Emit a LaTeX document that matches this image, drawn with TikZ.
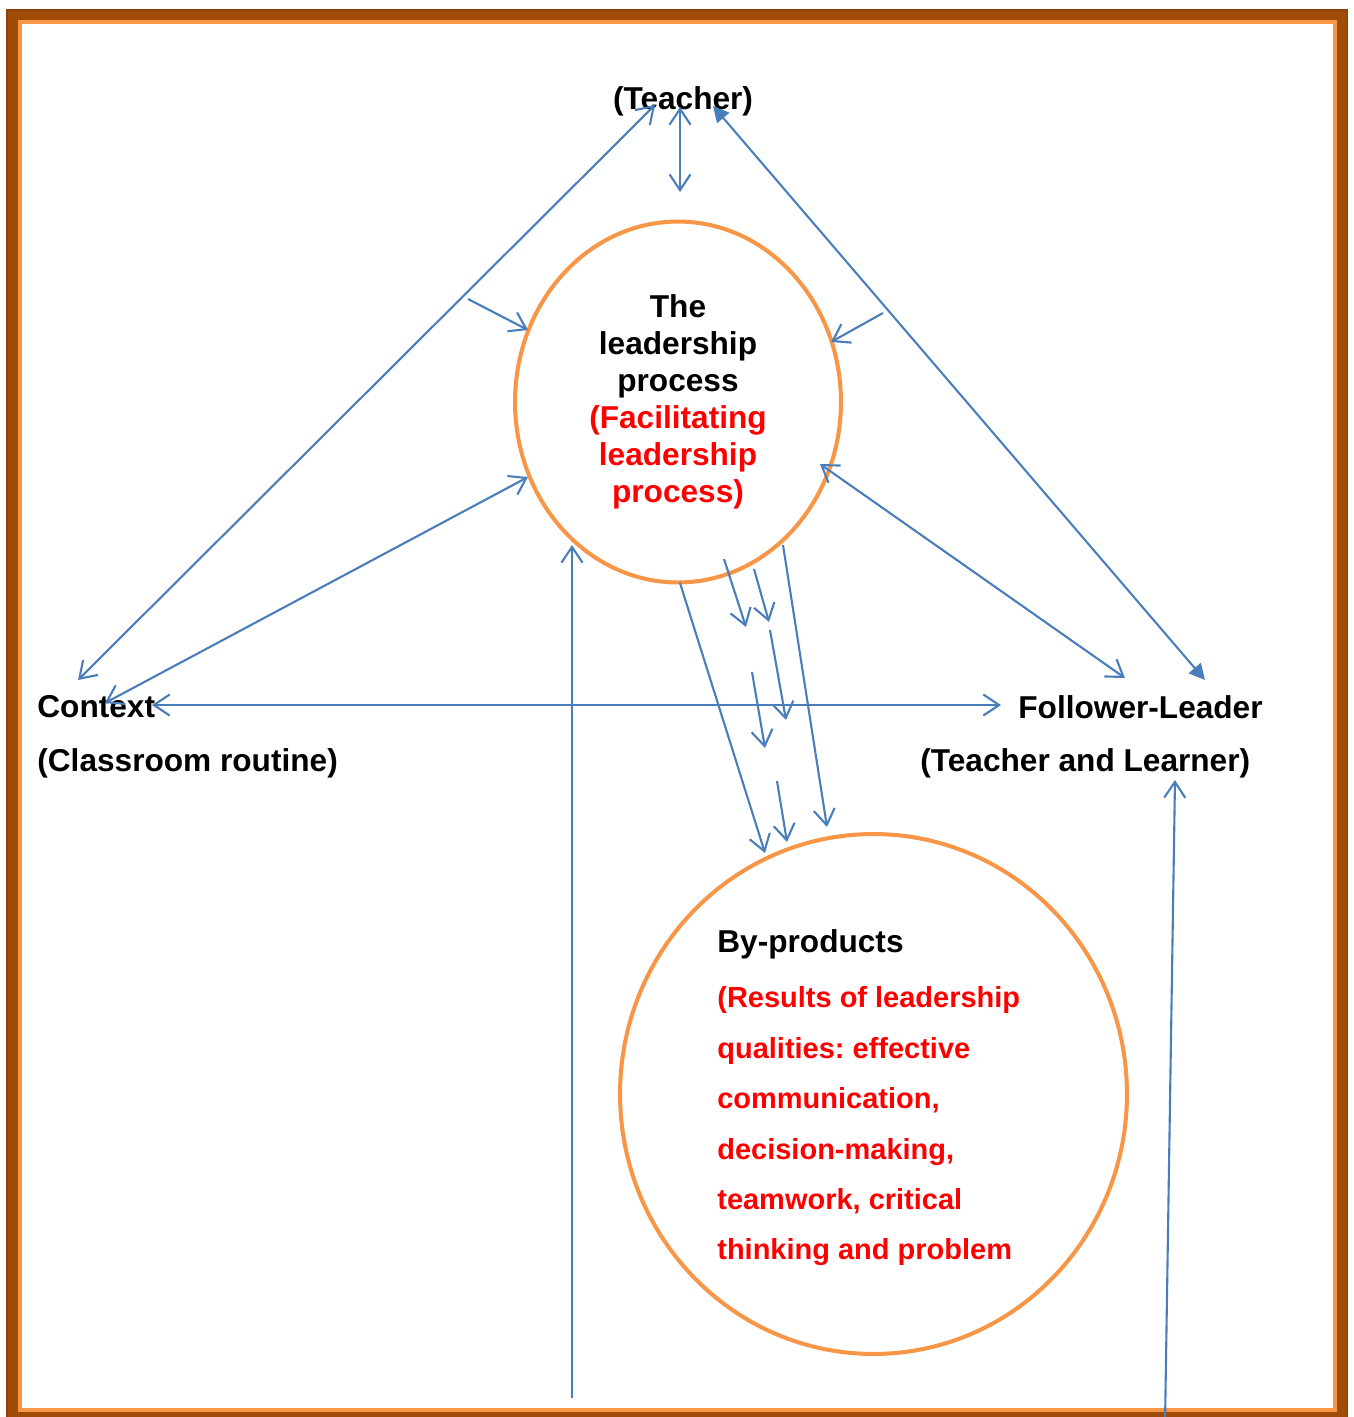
\documentclass[tikz,border=0pt]{standalone}
\usepackage{fontspec}
\setmainfont{Liberation Sans}
\usepackage{xcolor}
\usetikzlibrary{arrows.meta,shapes.geometric}
\definecolor{arrowblue}{RGB}{74,126,187}
\definecolor{ringorange}{RGB}{247,150,70}
\definecolor{framebrown}{RGB}{160,75,8}
\definecolor{framedark}{RGB}{138,64,6}
\definecolor{textred}{RGB}{255,0,0}
\frenchspacing

\begin{document}
\begin{tikzpicture}[x=0.02cm,y=-0.02cm,
	>={Straight Barb[length=9pt,width=12pt]},
	link/.style={arrowblue,line width=1.2pt},
	ring/.style={ellipse,draw=ringorange,line width=2.3pt,inner sep=0pt},
	boldtext/.style={font=\bfseries\fontsize{18}{21}\selectfont,inner sep=0pt}]
	\useasboundingbox (0,0) rectangle (1354,1417);
	
	% frame
	\draw[framebrown,line width=6.5pt] (12,14.5) rectangle (1342.5,1418);
	\draw[framedark,line width=0.9pt] (7,10) rectangle (1347.5,1423);
	\draw[ringorange,line width=2.3pt] (20,22) rectangle (1335,1410);
	
	% labels
	\node[boldtext] (teacher) at (683,101) {(Teacher)};
	\node[boldtext,anchor=west] (context) at (37,707) {Context};
	\node[boldtext,anchor=west] (routine) at (37,763) {(Classroom routine)};
	\node[boldtext,anchor=west] (follower) at (1018,707) {Follower-Leader};
	\node[boldtext,anchor=west] (learner) at (920,763) {(Teacher and Learner)};
	
	% circles
	\node[ring,boldtext,align=center,minimum width=6.52cm,minimum height=7.22cm] (process) at (678,402)
		{The\\leadership\\process\\\textcolor{textred}{(Facilitating}\\\textcolor{textred}{leadership}\\\textcolor{textred}{process)}};
	\node[ring,minimum width=10.14cm,minimum height=10.4cm] (byprod) at (873.5,1094) {};
	\node[align=left,text=textred,inner sep=0pt,anchor=west,
		font=\bfseries\fontsize{16.5}{28.7}\selectfont] (byprodtext) at (717,1098)
		{{\color{black}\fontsize{18}{21}\selectfont By-products}\\[2.5pt]
		(Results of leadership\\qualities: effective\\communication,\\decision-making,\\teamwork, critical\\thinking and problem};
	
	% arrow ends
	\coordinate (Ttop) at (680,107);
	\coordinate (Tbot) at (680,192);
	\coordinate (TL) at (655,105);
	\coordinate (CT) at (78,680);
	\coordinate (TR) at (713,106);
	\coordinate (FT) at (1205,680);
	\coordinate (P1s) at (468,299);
	\coordinate (P1e) at (528,330);
	\coordinate (P2s) at (883,313);
	\coordinate (P2e) at (831,342);
	\coordinate (CP) at (105,703);
	\coordinate (PC) at (528,477);
	\coordinate (PF) at (820,464);
	\coordinate (FP) at (1125,678);
	\coordinate (CF) at (152,705);
	\coordinate (FC) at (1001,705);
	\coordinate (B1) at (572,1398);
	\coordinate (P3) at (572,545);
	\coordinate (B2) at (1165,1425);
	\coordinate (F2) at (1175,780);
	
	\draw[link,<->] (Ttop) -- (Tbot);
	\draw[link,<->] (TL) -- (CT);
	\draw[link,{Triangle[length=9pt,width=9pt]}-{Triangle[length=9pt,width=9pt]}] (TR) -- (FT);
	\draw[link,->] (P1s) -- (P1e);
	\draw[link,->] (P2s) -- (P2e);
	\draw[link,<->] (CP) -- (PC);
	\draw[link,<->] (PF) -- (FP);
	\draw[link,<->] (CF) -- (FC);
	\draw[link,->] (B1) -- (P3);
	\draw[link,->] (B2) -- (F2);
	
	% from process to by-products
	\foreach \i/\a/\b/\c/\d in {1/680/583/765/853, 2/724/559/746/627, 3/754/569/769/622,
		4/770/630/786/720, 5/752/672/765/748, 6/777/781/787/842, 7/783/545/827/827}{
		\coordinate (s\i) at (\a,\b);
		\coordinate (e\i) at (\c,\d);
		\draw[link,->] (s\i) -- (e\i);
	}
\end{tikzpicture}
\end{document}
